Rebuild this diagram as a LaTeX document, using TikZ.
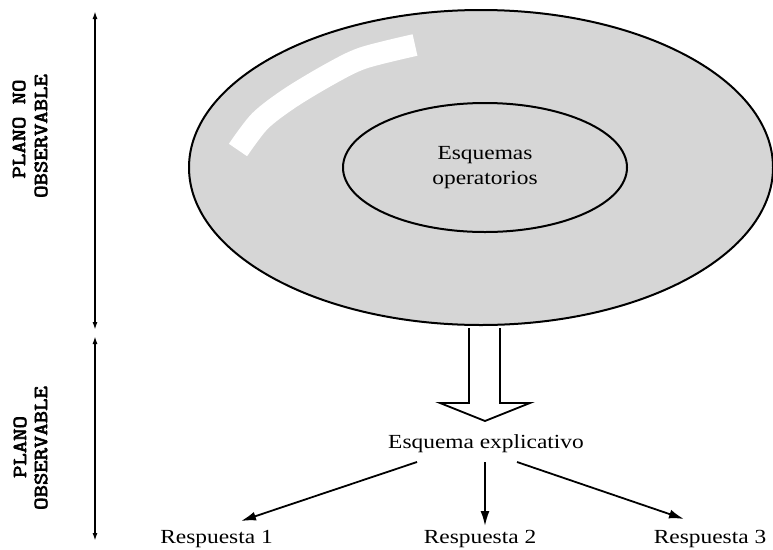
\documentclass[tikz,border=0pt]{standalone}
\usepackage{fontspec}
\setmainfont{Liberation Serif}
\newfontfamily\sidefont{Latin Modern Mono}[FakeBold=3]
\usetikzlibrary{arrows.meta,shapes.geometric}
\definecolor{shade}{RGB}{214,214,214}
\newcommand\hs[1]{\scalebox{1.17}[1]{#1}}
\newcommand\ms[1]{\scalebox{1.2}[1]{#1}}
\tikzset{
  lbl/.style={font=\fontsize{20}{25}\selectfont, inner sep=0pt, anchor=base},
  side/.style={rotate=90, font=\sidefont\fontsize{20}{20}\selectfont, inner sep=0pt},
  conn/.style={line width=1.8pt, -{Latex[length=15pt,width=9pt]}},
  span/.style={line width=1.6pt, {Latex[length=8pt,width=5pt]}-{Latex[length=8pt,width=5pt]}},
  oval/.style={draw, ellipse, line width=2pt, inner sep=0pt}
}
\begin{document}
\begin{tikzpicture}[x=1pt,y=-1pt]
\useasboundingbox (0,0) rectangle (773,549);
% outer and inner ellipses
\node[oval, fill=shade, minimum width=584pt, minimum height=315pt] (outer) at (481,167.5) {};
\draw[white, line width=22pt] plot[smooth] coordinates {(238,150) (260,121) (290,98) (330,74) (363,58) (415,45)};
\node[oval, minimum width=284pt, minimum height=129pt, align=center,
      font=\fontsize{20}{25}\selectfont] (inner) at (485,167.5) {\hs{Esquemas}\\\hs{operatorios}};
% hollow arrow
\coordinate (hA) at (469,328);
\coordinate (hB) at (500,328);
\draw[line width=1.8pt, fill=white, line join=miter]
  (hA) -- (469,403) -- (440,403) -- (485,421) -- (530,403) -- (500,403) -- (hB);
% labels
\node[lbl] (ee) at (486,448) {\hs{Esquema explicativo}};
\node[lbl] (r1) at (216.5,543) {\hs{Respuesta 1}};
\node[lbl] (r2) at (480,543) {\hs{Respuesta 2}};
\node[lbl] (r3) at (710,543) {\hs{Respuesta 3}};
% connectors
\coordinate (s1) at (417,462);
\coordinate (s2) at (485,462);
\coordinate (s3) at (517,462);
\coordinate (e1) at (241,521);
\coordinate (e2) at (485,526);
\coordinate (e3) at (684,519);
\draw[conn] (s1) -- (e1);
\draw[conn] (s2) -- (e2);
\draw[conn] (s3) -- (e3);
% side spans
\coordinate (v1) at (95,11);
\coordinate (v2) at (95,330);
\coordinate (v3) at (95,336);
\coordinate (v4) at (95,541);
\draw[span] (v1) -- (v2);
\draw[span] (v3) -- (v4);
\node[side] (p1a) at (19,129) {\ms{PLANO NO}};
\node[side] (p1b) at (41,136) {\ms{OBSERVABLE}};
\node[side] (p2a) at (20,447) {\ms{PLANO}};
\node[side] (p2b) at (41,448) {\ms{OBSERVABLE}};
\end{tikzpicture}
\end{document}
